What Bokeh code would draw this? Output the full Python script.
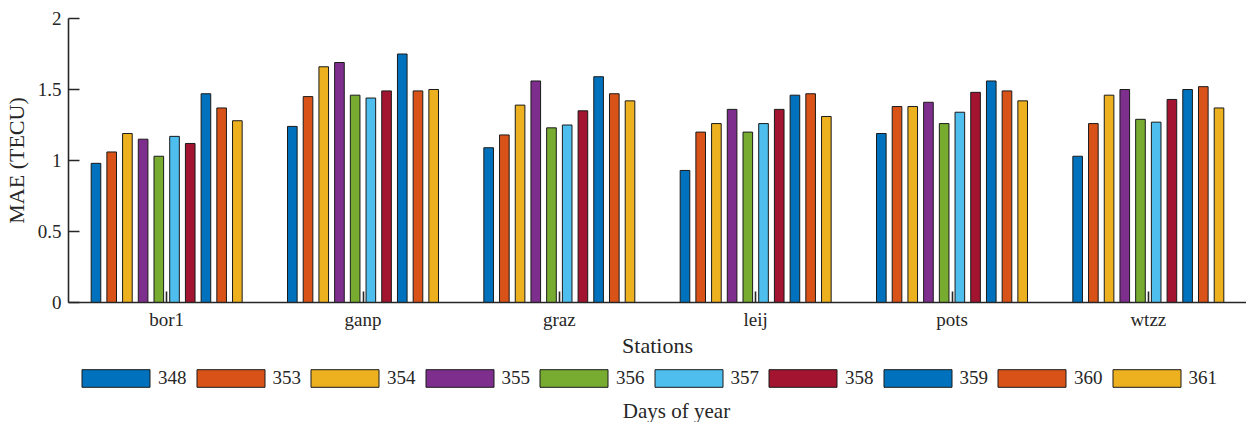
from bokeh.plotting import figure
from bokeh.layouts import column
from bokeh.models import Range1d, FixedTicker, Legend, LegendItem, Label
from bokeh.embed import file_html
from bokeh.resources import INLINE

stations = ["bor1", "ganp", "graz", "leij", "pots", "wtzz"]
days = ["348", "353", "354", "355", "356", "357", "358", "359", "360", "361"]

mae_348 = [0.98, 1.24, 1.09, 0.93, 1.19, 1.03]
mae_353 = [1.06, 1.45, 1.18, 1.20, 1.38, 1.26]
mae_354 = [1.19, 1.66, 1.39, 1.26, 1.38, 1.46]
mae_355 = [1.15, 1.69, 1.56, 1.36, 1.41, 1.50]
mae_356 = [1.03, 1.46, 1.23, 1.20, 1.26, 1.29]
mae_357 = [1.17, 1.44, 1.25, 1.26, 1.34, 1.27]
mae_358 = [1.12, 1.49, 1.35, 1.36, 1.48, 1.43]
mae_359 = [1.47, 1.75, 1.59, 1.46, 1.56, 1.50]
mae_360 = [1.37, 1.49, 1.47, 1.47, 1.49, 1.52]
mae_361 = [1.28, 1.50, 1.42, 1.31, 1.42, 1.37]

series = [mae_348, mae_353, mae_354, mae_355, mae_356,
          mae_357, mae_358, mae_359, mae_360, mae_361]
colors = ["#0072BD", "#D95319", "#EDB120", "#7E2F8E", "#77AC30",
          "#4DBEEE", "#A2142F", "#0072BD", "#D95319", "#EDB120"]

FONT = "Liberation Serif"
TXT = "#262626"
EDGE = "#1a1a1a"
W = 1246

p = figure(output_backend="svg", toolbar_location=None,
           width=W, height=362,
           min_border_left=67, min_border_top=18, min_border_right=0,
           min_border_bottom=60,
           x_range=Range1d(0.5, 6.5), y_range=Range1d(0, 2))
p.outline_line_color = None
p.xgrid.visible = False
p.ygrid.visible = False

pitch = 0.08
bw = 0.049
base = list(range(1, len(stations) + 1))
for j, (vals, col) in enumerate(zip(series, colors)):
    xs = [b + (j - 4.5) * pitch for b in base]
    p.vbar(x=xs, top=vals, width=bw, bottom=0, fill_color=col,
           line_color=EDGE, line_width=1)

for ax in (p.xaxis[0], p.yaxis[0]):
    ax.axis_line_color = TXT
    ax.axis_line_width = 1.6
    ax.major_tick_line_color = TXT
    ax.major_tick_line_width = 1.6
    ax.major_tick_in = 11
    ax.major_tick_out = 0
    ax.minor_tick_line_color = None
    ax.major_label_text_font = FONT
    ax.major_label_text_font_size = "19px"
    ax.major_label_text_color = TXT
    ax.axis_label_text_font = FONT
    ax.axis_label_text_font_size = "22px"
    ax.axis_label_text_font_style = "normal"
    ax.axis_label_text_color = TXT

p.xaxis.ticker = FixedTicker(ticks=base)
p.xaxis.major_label_overrides = {b: s for b, s in zip(base, stations)}
p.xaxis.axis_label = "Stations"
p.xaxis.major_label_standoff = 6
p.xaxis.axis_label_standoff = 0

p.yaxis.ticker = FixedTicker(ticks=[0, 0.5, 1, 1.5, 2])
p.yaxis.major_label_overrides = {0: "0", 0.5: "0.5", 1: "1", 1.5: "1.5", 2: "2"}
p.yaxis.axis_label = "MAE (TECU)"
p.yaxis.major_label_standoff = 7
p.yaxis.axis_label_standoff = 6

# legend strip (its swatch renderers sit far outside this strip's visible range)
q = figure(output_backend="svg", toolbar_location=None, width=W, height=60,
           min_border=0, x_axis_location=None, y_axis_location=None,
           x_range=Range1d(100, 101), y_range=Range1d(100, 101))
q.outline_line_color = None
q.xgrid.visible = False
q.ygrid.visible = False

items = []
for vals, col, d in zip(series, colors, days):
    r = q.vbar(x=base, top=vals, width=bw, fill_color=col, line_color=EDGE,
               line_width=1)
    items.append(LegendItem(label=d, renderers=[r]))

legend = Legend(items=items, orientation="horizontal", location=(5, 33),
                glyph_width=85, glyph_height=22, label_standoff=0, spacing=1,
                label_text_font=FONT, label_text_font_size="19px",
                label_text_color=TXT, border_line_color=None,
                background_fill_alpha=0, padding=0, margin=0,
                label_height=22)
q.add_layout(legend, "center")

days_title = Label(x=608, y=12, x_units="screen", y_units="screen",
                   text="Days of year", text_font=FONT, text_font_size="21px",
                   text_color=TXT, text_align="center", text_baseline="middle")
q.add_layout(days_title)

layout = column(p, q, spacing=0)
open("out.html", "w").write(file_html(layout, INLINE))
